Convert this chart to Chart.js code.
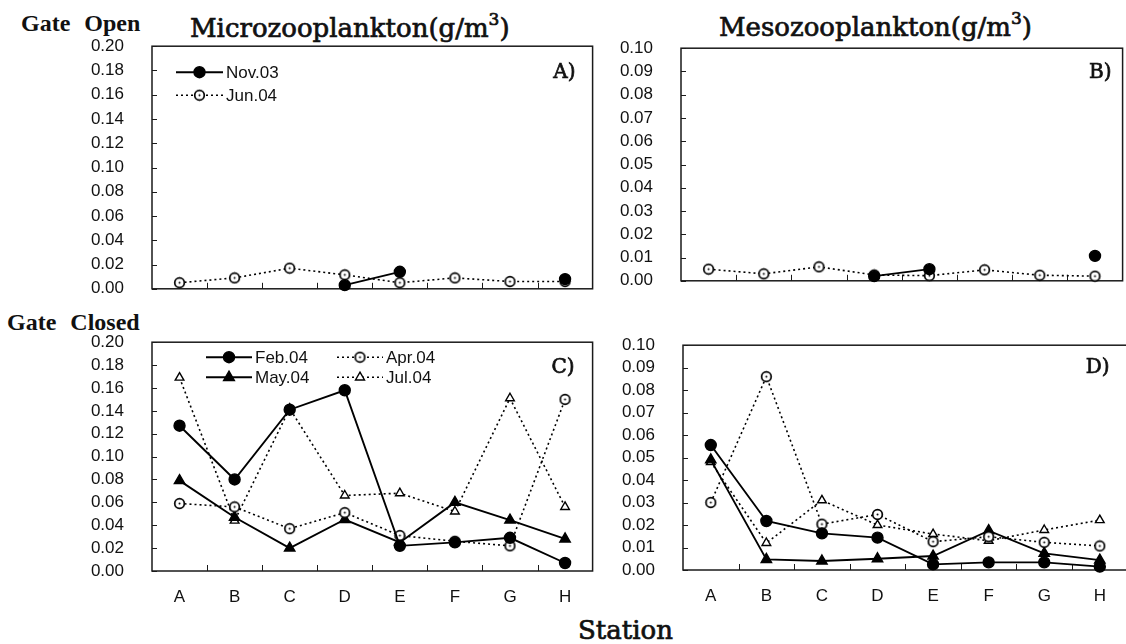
<!DOCTYPE html>
<html>
<head>
<meta charset="utf-8">
<script src="https://cdn.jsdelivr.net/npm/chart.js@4.4.1/dist/chart.umd.min.js"></script>
<style>
  html, body { margin: 0; padding: 0; background: #fff; overflow: hidden; }
  #wrap { position: relative; width: 1126px; height: 644px; overflow: hidden; }
  canvas { position: absolute; }
  .lbl { position: absolute; white-space: nowrap; line-height: 1; color: #111; }
  .gate { font-family: 'Liberation Serif', serif; font-weight: bold; font-size: 24px; word-spacing: 8px; }
  .ttl { font-family: 'DejaVu Serif', serif; font-size: 26px; -webkit-text-stroke: 0.7px #111; }
  .ttl sup { font-size: 17px; vertical-align: 12px; line-height: 0; }
</style>
</head>
<body>
<div id="wrap">
  <div class="lbl gate" style="left:21px; top:11px;">Gate Open</div>
  <div class="lbl gate" style="left:7px; top:310px;">Gate Closed</div>
  <div class="lbl ttl" style="left:190px; top:15px;">Microzooplankton(g/m<sup>3</sup>)</div>
  <div class="lbl ttl" style="left:719px; top:14px;">Mesozooplankton(g/m<sup>3</sup>)</div>
  <div class="lbl ttl" style="left:578px; top:617px;">Station</div>

  <canvas id="chartA" width="540" height="300"></canvas>
  <canvas id="chartB" width="540" height="300"></canvas>
  <canvas id="chartC" width="540" height="300"></canvas>
  <canvas id="chartD" width="540" height="300"></canvas>
</div>

<script>
// stations along the x axis
const stations = ['A', 'B', 'C', 'D', 'E', 'F', 'G', 'H'];

// y tick labels
const microTicks = [0.00, 0.02, 0.04, 0.06, 0.08, 0.10, 0.12, 0.14, 0.16, 0.18, 0.20];
const mesoTicks  = [0.00, 0.01, 0.02, 0.03, 0.04, 0.05, 0.06, 0.07, 0.08, 0.09, 0.10];

// Gate open (g/m3)
const microNov03 = [null, null, null, 0.003, 0.014, null, null, 0.008];
const microJun04 = [0.005, 0.009, 0.017, 0.0115, 0.005, 0.009, 0.006, 0.006];
const mesoNov03  = [null, null, null, 0.002, 0.005, null, null, 0.0107];
const mesoJun04  = [0.005, 0.003, 0.006, 0.0025, 0.0022, 0.0047, 0.0024, 0.002];

// Gate closed (g/m3)
const microFeb04 = [0.127, 0.080, 0.141, 0.158, 0.022, 0.025, 0.029, 0.007];
const microApr04 = [0.059, 0.056, 0.037, 0.051, 0.031, 0.026, 0.022, 0.150];
const microMay04 = [0.079, 0.047, 0.020, 0.045, 0.025, 0.060, 0.0445, 0.028];
const microJul04 = [0.169, 0.044, 0.142, 0.066, 0.068, 0.052, 0.151, 0.056];
const mesoFeb04  = [0.0556, 0.0218, 0.0163, 0.0144, 0.0025, 0.0034, 0.0034, 0.0015];
const mesoApr04  = [0.030, 0.086, 0.0204, 0.0247, 0.0126, 0.0148, 0.0123, 0.0107];
const mesoMay04  = [0.049, 0.0047, 0.004, 0.005, 0.0062, 0.0175, 0.0074, 0.0044];
const mesoJul04  = [0.048, 0.012, 0.031, 0.020, 0.016, 0.013, 0.0178, 0.0222];

const SANS = "'Liberation Sans', Arial, sans-serif";
const SERIF = "'DejaVu Serif', serif";

// open circle with a small dot in the middle
function makeOpenCircle() {
  const c = document.createElement('canvas');
  c.width = 13; c.height = 13;
  const g = c.getContext('2d');
  g.beginPath();
  g.arc(6.5, 6.5, 4.8, 0, Math.PI * 2);
  g.fillStyle = '#fff';
  g.fill();
  g.lineWidth = 1.7;
  g.strokeStyle = '#000';
  g.stroke();
  g.beginPath();
  g.arc(6.5, 6.5, 1, 0, Math.PI * 2);
  g.fillStyle = '#000';
  g.fill();
  return c;
}
const openCircle = makeOpenCircle();

function series(label, data, kind) {
  const solid = kind === 'dot' || kind === 'tri';
  const ds = {
    label, data,
    borderColor: '#000',
    borderWidth: solid ? 1.9 : 1.6,
    borderDash: solid ? [] : [2, 3],
    pointBorderColor: '#000',
    pointBorderWidth: 1.4,
    spanGaps: false,
    clip: false,
    tension: 0
  };
  if (kind === 'dot')   Object.assign(ds, { pointStyle: 'circle', pointRadius: 5.5, pointBackgroundColor: '#000' });
  if (kind === 'ring')  Object.assign(ds, { pointStyle: openCircle, pointRadius: 6 });
  if (kind === 'tri')   Object.assign(ds, { pointStyle: 'triangle', pointRadius: 6, pointBackgroundColor: '#000' });
  if (kind === 'otri')  Object.assign(ds, { pointStyle: 'triangle', pointRadius: 5, pointBackgroundColor: '#fff', pointBorderWidth: 1.4 });
  return ds;
}

function drawMarker(ctx, ds, x, y) {
  const st = ds.pointStyle;
  if (st instanceof HTMLCanvasElement) {
    ctx.drawImage(st, x - st.width / 2, y - st.height / 2);
    return;
  }
  const r = ds.pointRadius;
  ctx.beginPath();
  if (st === 'triangle') {
    ctx.moveTo(x, y - r);
    ctx.lineTo(x + r * 0.9, y + r * 0.55);
    ctx.lineTo(x - r * 0.9, y + r * 0.55);
    ctx.closePath();
  } else {
    ctx.arc(x, y, r, 0, Math.PI * 2);
  }
  ctx.fillStyle = ds.pointBackgroundColor;
  ctx.fill();
  ctx.lineWidth = ds.pointBorderWidth;
  ctx.strokeStyle = '#000';
  ctx.setLineDash([]);
  ctx.stroke();
}

// frame, inward ticks, inset legend and panel letter
const panelPlugin = {
  id: 'panel',
  beforeDatasetsDraw(chart, args, opts) {
    const { ctx, chartArea: a, scales } = chart;
    ctx.save();
    ctx.strokeStyle = '#1a1a1a';
    ctx.lineWidth = 1.5;
    ctx.strokeRect(a.left, a.top, a.right - a.left, a.bottom - a.top);
    ctx.lineWidth = 1;
    ctx.beginPath();
    scales.y.ticks.forEach(t => {
      const py = Math.round(scales.y.getPixelForValue(t.value)) + 0.5;
      ctx.moveTo(a.left, py);
      ctx.lineTo(a.left + 5, py);
    });
    for (let i = 0; i < stations.length - 1; i++) {
      const px = Math.round((scales.x.getPixelForValue(i) + scales.x.getPixelForValue(i + 1)) / 2) + 0.5;
      ctx.moveTo(px, a.bottom);
      ctx.lineTo(px, a.bottom - 6);
    }
    ctx.stroke();
    ctx.restore();
  },
  afterDatasetsDraw(chart, args, opts) {
    const { ctx, chartArea: a } = chart;
    ctx.save();
    const lg = opts.legend;
    if (lg) {
      chart.data.datasets.forEach((ds, i) => {
        const col = i % lg.cols, row = Math.floor(i / lg.cols);
        const x0 = a.left + lg.x + col * lg.colW;
        const y0 = a.top + lg.y + row * lg.rowH;
        ctx.beginPath();
        ctx.setLineDash(ds.borderDash);
        ctx.lineWidth = ds.borderWidth;
        ctx.strokeStyle = '#000';
        ctx.moveTo(x0, y0);
        ctx.lineTo(x0 + lg.lineW, y0);
        ctx.stroke();
        ctx.setLineDash([]);
        drawMarker(ctx, ds, x0 + lg.lineW / 2, y0);
        ctx.fillStyle = '#111';
        ctx.font = '17px ' + SANS;
        ctx.textBaseline = 'middle';
        ctx.textAlign = 'left';
        ctx.fillText(ds.label, x0 + lg.lineW + 3, y0 + 1);
      });
    }
    if (opts.letter) {
      const lx = a.right - opts.letterDx, ly = a.top + opts.letterDy;
      ctx.fillStyle = '#111';
      ctx.strokeStyle = '#111';
      ctx.lineWidth = 0.7;
      ctx.font = '20px ' + SERIF;
      ctx.textAlign = 'right';
      ctx.textBaseline = 'middle';
      ctx.fillText(opts.letter, lx, ly);
      ctx.strokeText(opts.letter, lx, ly);
    }
    ctx.restore();
  }
};

// move / resize the canvas so the plot area lands on the target box
function place(chart, box) {
  const cv = chart.canvas;
  for (let k = 0; k < 3; k++) {
    const a = chart.chartArea;
    const w = Math.round(chart.width + (box.right - box.left) - (a.right - a.left));
    const h = Math.round(chart.height + (box.bottom - box.top) - (a.bottom - a.top));
    if (w !== chart.width || h !== chart.height) chart.resize(w, h);
  }
  const a = chart.chartArea;
  cv.style.left = (box.left - a.left) + 'px';
  cv.style.top = (box.top - a.top) + 'px';
}

function makeChart(id, datasets, ticks, yMax, showX, box, panel) {
  const chart = new Chart(document.getElementById(id), {
    type: 'line',
    data: { labels: stations, datasets },
    plugins: [panelPlugin],
    options: {
      responsive: false,
      maintainAspectRatio: false,
      animation: false,
      devicePixelRatio: 1,
      events: [],
      layout: { padding: { top: 10, right: 4, left: 0, bottom: 0 } },
      scales: {
        x: {
          type: 'category',
          offset: true,
          grid: { display: false },
          border: { display: false },
          ticks: { display: showX, color: '#111', font: { family: SANS, size: 17 }, padding: 8, maxRotation: 0, autoSkip: false },
          afterFit: s => { s.height = showX ? 40 : 12; }
        },
        y: {
          min: 0, max: yMax,
          grid: { display: false },
          border: { display: false },
          afterBuildTicks: s => { s.ticks = ticks.map(v => ({ value: v })); },
          ticks: { color: '#111', font: { family: SANS, size: 17 }, padding: 20, autoSkip: false,
                   callback: v => Number(v).toFixed(2) },
          afterFit: s => { s.width = 80; }
        }
      },
      plugins: {
        legend: { display: false },
        tooltip: { enabled: false },
        panel
      }
    }
  });
  place(chart, box);
  return chart;
}

makeChart('chartA', [
  series('Nov.03', microNov03, 'dot'),
  series('Jun.04', microJun04, 'ring')
], microTicks, 0.2, false, { left: 152, top: 46, right: 593, bottom: 289 }, {
  letter: 'A)', letterDx: 17, letterDy: 27,
  legend: { x: 24, y: 26, rowH: 23, cols: 1, colW: 0, lineW: 47 }
});

makeChart('chartB', [
  series('Nov.03', mesoNov03, 'dot'),
  series('Jun.04', mesoJun04, 'ring')
], mesoTicks, 0.1, false, { left: 681, top: 48, right: 1123, bottom: 281 },
  { letter: 'B)', letterDx: 11, letterDy: 25 });

makeChart('chartC', [
  series('Feb.04', microFeb04, 'dot'),
  series('Apr.04', microApr04, 'ring'),
  series('May.04', microMay04, 'tri'),
  series('Jul.04', microJul04, 'otri')
], microTicks, 0.2, true, { left: 152, top: 342, right: 593, bottom: 571 }, {
  letter: 'C)', letterDx: 18, letterDy: 26,
  legend: { x: 54, y: 15, rowH: 20, cols: 2, colW: 131, lineW: 46 }
});

makeChart('chartD', [
  series('Feb.04', mesoFeb04, 'dot'),
  series('Apr.04', mesoApr04, 'ring'),
  series('May.04', mesoMay04, 'tri'),
  series('Jul.04', mesoJul04, 'otri')
], mesoTicks, 0.1, true, { left: 683, top: 345, right: 1128, bottom: 570 },
  { letter: 'D)', letterDx: 18, letterDy: 23 });
</script>
</body>
</html>
